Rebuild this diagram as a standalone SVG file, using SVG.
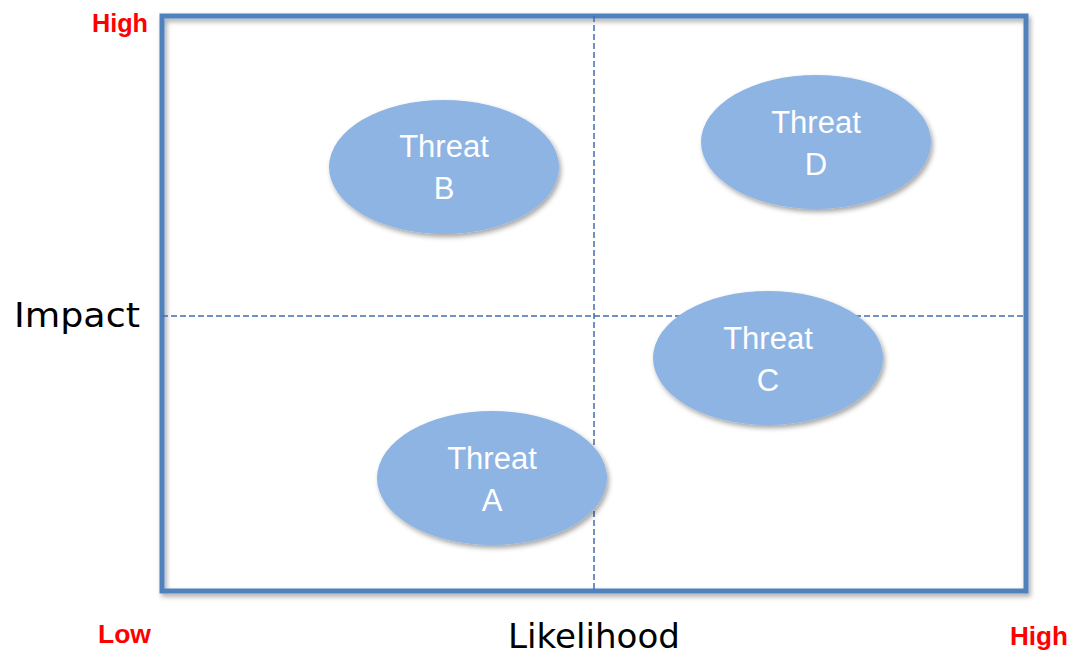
<svg xmlns="http://www.w3.org/2000/svg" width="1074" height="654" viewBox="0 0 1074 654">
<defs>
<filter id="sh" x="-10%" y="-10%" width="130%" height="130%">
<feDropShadow dx="2" dy="3" stdDeviation="2.5" flood-color="#000" flood-opacity="0.35"/>
</filter>
</defs>
<style>
.frame{fill:none;stroke:#4F81BD;stroke-width:5}
.dash{stroke:#3F6FAF;stroke-width:1.5;stroke-dasharray:6 3;fill:none}
.ell{fill:#8EB4E3;filter:url(#sh)}
.lbl{font-family:"Liberation Sans","Noto Sans",sans-serif;font-size:31px;fill:#fff;text-anchor:middle}
.ax{font-family:"DejaVu Sans",sans-serif;font-size:34px;fill:#000}
.hl{font-family:"Liberation Sans",sans-serif;font-weight:bold;font-size:25px;fill:#ff0000}
</style>
<rect class="frame" x="162" y="16" width="864" height="575" filter="url(#sh)"/>
<g id="connectors">
<line class="dash" x1="594" y1="16" x2="594" y2="591"/>
<line class="dash" x1="162" y1="316" x2="1026" y2="316"/>
</g>
<g id="threatB"><ellipse class="ell" cx="444" cy="167" rx="115" ry="67"/><text class="lbl" x="444" y="157">Threat</text><text class="lbl" x="444" y="199">B</text></g>
<g id="threatD"><ellipse class="ell" cx="816" cy="142" rx="115" ry="67"/><text class="lbl" x="816" y="133">Threat</text><text class="lbl" x="816" y="175">D</text></g>
<g id="threatC"><ellipse class="ell" cx="768" cy="358" rx="115" ry="67"/><text class="lbl" x="768" y="349">Threat</text><text class="lbl" x="768" y="391">C</text></g>
<g id="threatA"><ellipse class="ell" cx="492" cy="478" rx="115" ry="67"/><text class="lbl" x="492" y="469">Threat</text><text class="lbl" x="492" y="511">A</text></g>
<g id="labels">
<text class="ax" x="14" y="327" textLength="126" lengthAdjust="spacingAndGlyphs">Impact</text>
<text class="ax" x="508" y="648" textLength="172" lengthAdjust="spacingAndGlyphs">Likelihood</text>
<text class="hl" x="92" y="32" textLength="56" lengthAdjust="spacingAndGlyphs">High</text>
<text class="hl" x="98" y="643" textLength="53" lengthAdjust="spacingAndGlyphs">Low</text>
<text class="hl" x="1010" y="645" textLength="58" lengthAdjust="spacingAndGlyphs">High</text>
</g>
</svg>
